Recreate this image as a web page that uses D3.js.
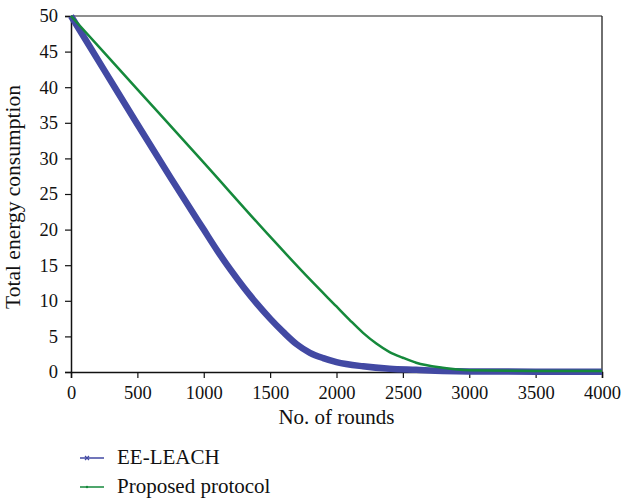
<!DOCTYPE html>
<html>
<head>
<meta charset="utf-8">
<script src="https://cdn.jsdelivr.net/npm/d3@7"></script>
<style>
  html, body { margin: 0; padding: 0; background: #fff; }
  svg text { font-family: "Liberation Serif", "DejaVu Serif", serif; fill: #111; }
</style>
</head>
<body>
<svg id="chart" width="623" height="498"></svg>
<script>
// Total remaining energy per round for each protocol
const eeRounds = [0, 250, 500, 750, 1000, 1100, 1200, 1300, 1400, 1500, 1600, 1700, 1800, 1900, 2000, 2200, 2400, 2600, 2800, 3000, 3500, 4000];
const eeEnergy = [50, 42.4, 34.8, 27.3, 20.0, 17.1, 14.4, 11.9, 9.6, 7.5, 5.6, 3.9, 2.7, 1.95, 1.4, 0.8, 0.45, 0.3, 0.15, 0.08, 0.05, 0.05];

const ppRounds = [0, 500, 1000, 1500, 1800, 2000, 2100, 2200, 2300, 2400, 2500, 2600, 2800, 3000, 3500, 4000];
const ppEnergy = [50, 39.7, 29.4, 19.0, 13.0, 9.2, 7.3, 5.5, 4.0, 2.8, 2.0, 1.3, 0.6, 0.25, 0.15, 0.15];

const seriesNames = ["EE-LEACH", "Proposed protocol"];
const seriesColors = ["#4249a3", "#15893b"];

const xTicks = [0, 500, 1000, 1500, 2000, 2500, 3000, 3500, 4000];
const yTicks = [0, 5, 10, 15, 20, 25, 30, 35, 40, 45, 50];

const xTitle = "No. of rounds";
const yTitle = "Total energy consumption";

const svg = d3.select("#chart");
const margin = { left: 71, top: 16, right: 21, bottom: 126 };
const W = 623, H = 498;
const x = d3.scaleLinear().domain([0, 4000]).range([margin.left, W - margin.right]);
const y = d3.scaleLinear().domain([0, 50]).range([H - margin.bottom, margin.top]);

// frame: grey top edge, dark right edge
svg.append("line")
  .attr("x1", x(0)).attr("x2", x(4000))
  .attr("y1", y(50)).attr("y2", y(50))
  .attr("stroke", "#6a6a6a").attr("stroke-width", 1.5);
svg.append("line")
  .attr("x1", x(4000)).attr("x2", x(4000))
  .attr("y1", y(50)).attr("y2", y(0))
  .attr("stroke", "#222").attr("stroke-width", 1.3);

// axes
const xAxis = svg.append("g")
  .attr("transform", `translate(0,${y(0)})`)
  .call(d3.axisBottom(x).tickValues(xTicks).tickFormat(d3.format("d")).tickSizeOuter(0).tickSize(6).tickPadding(8));
const yAxis = svg.append("g")
  .attr("transform", `translate(${x(0)},0)`)
  .call(d3.axisLeft(y).tickValues(yTicks).tickFormat(d3.format("d")).tickSizeOuter(0).tickSize(6).tickPadding(7));

[xAxis, yAxis].forEach(g => {
  g.select(".domain").attr("stroke", "#111").attr("stroke-width", 1.5);
  g.selectAll(".tick line").attr("stroke", "#111").attr("stroke-width", 1.2);
  g.selectAll(".tick text").attr("font-family", "Liberation Serif, serif").attr("font-size", 18.5).attr("fill", "#111");
});

// axis titles
svg.append("text")
  .attr("x", (x(0) + x(4000)) / 2).attr("y", 424)
  .attr("text-anchor", "middle").attr("font-size", 21)
  .text(xTitle);
svg.append("text")
  .attr("transform", `translate(20,${(y(0) + y(50)) / 2 + 3}) rotate(-90)`)
  .attr("text-anchor", "middle").attr("font-size", 21.5)
  .text(yTitle);

// series lines
const line = d3.line().x(d => x(d[0])).y(d => y(d[1])).curve(d3.curveMonotoneX);
const eeData = eeRounds.map((r, i) => [r, eeEnergy[i]]);
const ppData = ppRounds.map((r, i) => [r, ppEnergy[i]]);

svg.append("path").datum(eeData)
  .attr("d", line).attr("fill", "none")
  .attr("stroke", seriesColors[0]).attr("stroke-width", 6.5)
  .attr("stroke-linejoin", "round");
svg.append("path").datum(ppData)
  .attr("d", line).attr("fill", "none")
  .attr("stroke", seriesColors[1]).attr("stroke-width", 2.5)
  .attr("stroke-linejoin", "round");

// legend
const legend = svg.append("g");
const legendY = [458, 487];
seriesNames.forEach((name, i) => {
  const g = legend.append("g").attr("transform", `translate(0,${legendY[i]})`);
  g.append("line").attr("x1", 80).attr("x2", 104).attr("y1", 0).attr("y2", 0)
    .attr("stroke", seriesColors[i]).attr("stroke-width", 1.5);
  if (i === 0) {
    g.append("path").attr("d", "M85,-2L89,2M85,2L89,-2")
      .attr("stroke", seriesColors[i]).attr("stroke-width", 1.2);
  } else {
    g.append("circle").attr("cx", 87).attr("cy", 0).attr("r", 1.2).attr("fill", seriesColors[i]);
  }
  g.append("text").attr("x", 117).attr("y", 6).attr("font-size", 21).text(name);
});
</script>
</body>
</html>
